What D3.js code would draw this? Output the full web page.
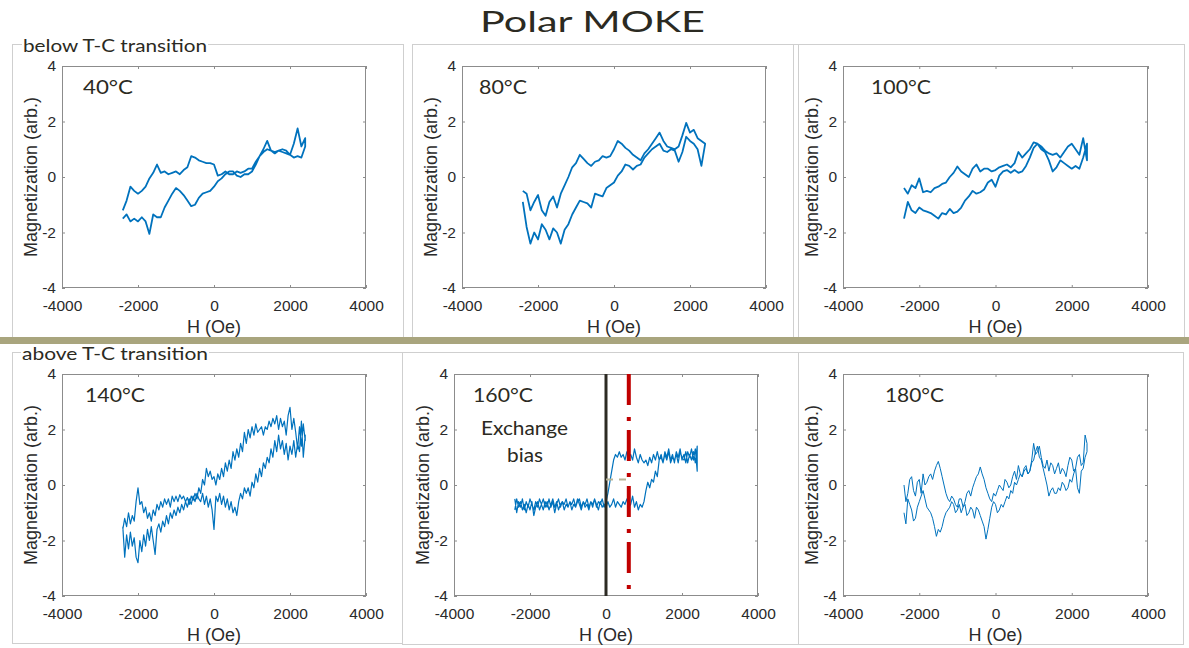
<!DOCTYPE html>
<html>
<head>
<meta charset="utf-8">
<script src="https://cdn.jsdelivr.net/npm/d3@7"></script>
<style>
  body { margin: 0; background: #fff; }
  svg { display: block; }
</style>
</head>
<body>
<svg id="chart" width="1189" height="648"></svg>
<script>
// ---- axis ticks and panel captions ----
const fieldTicks = [-4000, -2000, 0, 2000, 4000];
const magTicks = [-4, -2, 0, 2, 4];
const temperatures = ["40°C", "80°C", "100°C", "140°C", "160°C", "180°C"];
const sectionTitles = ["below T-C transition", "above T-C transition"];
const chartTitle = "Polar MOKE";
const xAxisTitle = "H (Oe)";
const yAxisTitle = "Magnetization (arb.)";

// field sweep positions (Oe)
const sweepCoarse = d3.range(-2400, 2401, 100);
const sweepFine = d3.range(-2400, 2401, 50);

// ---- magnetization, upper branch and lower branch, listed by increasing field ----
const m40Upper = [
  -1.2, -0.85, -0.35, -0.5, -0.6, -0.5, -0.35, -0.05, 0.15, 0.45,
  0.15, 0.2, 0.1, 0.15, 0.2, 0.1, 0.25, 0.35, 0.75, 0.7,
  0.6, 0.55, 0.5, 0.5, 0.45, 0.05, 0.1, 0.2, 0.1, 0.1,
  0.2, 0.15, 0.2, 0.3, 0.3, 0.55, 0.75, 0.9, 1.0, 0.95,
  0.9, 0.95, 0.9, 0.85, 0.8, 0.7, 0.75, 0.7, 1.1];
const m40Lower = [
  -1.5, -1.35, -1.6, -1.5, -1.6, -1.45, -1.6, -2.05, -1.35, -1.45,
  -1.45, -1.1, -0.85, -0.6, -0.4, -0.5, -0.65, -0.85, -1.05, -1.0,
  -0.75, -0.6, -0.55, -0.5, -0.35, -0.15, -0.05, 0.1, 0.2, 0.2,
  0.05, 0.0, 0.1, 0.1, 0.2, 0.45, 0.75, 1.0, 1.3, 0.95,
  0.85, 0.95, 1.0, 0.95, 0.8, 1.2, 1.75, 1.1, 1.4];

const m80Upper = [
  -0.5, -0.6, -1.2, -0.9, -0.65, -1.2, -1.4, -0.9, -0.7, -1.1,
  -0.6, -0.3, 0.0, 0.35, 0.5, 0.8, 0.65, 0.5, 0.4, 0.55,
  0.6, 0.75, 0.7, 0.75, 1.0, 1.3, 1.2, 1.05, 0.95, 0.8,
  0.7, 0.6, 0.85, 1.0, 1.2, 1.4, 1.6, 1.3, 1.1, 1.05,
  1.0, 1.1, 1.5, 1.95, 1.6, 1.7, 1.4, 1.3, 1.2];
const m80Lower = [
  -0.9, -1.8, -2.4, -2.0, -2.25, -1.7, -1.9, -2.25, -1.85, -2.0,
  -2.4, -1.9, -1.7, -1.35, -1.1, -0.85, -0.9, -0.95, -1.1, -0.6,
  -0.65, -0.7, -0.4, -0.3, -0.2, 0.05, 0.2, 0.45, 0.4, 0.27,
  0.4, 0.45, 0.7, 0.85, 1.0, 1.1, 1.2, 0.95, 0.9, 1.0,
  0.95, 0.55, 0.9, 1.45, 1.3, 1.2, 1.0, 0.4, 1.2];

const m100Upper = [
  -0.4, -0.6, -0.3, -0.4, -0.05, -0.55, -0.5, -0.55, -0.4, -0.35,
  -0.25, -0.2, 0.0, 0.15, 0.38, 0.2, 0.1, 0.0, 0.3, 0.45,
  0.2, 0.3, 0.3, 0.2, 0.25, 0.35, 0.4, 0.45, 0.35, 0.5,
  0.9, 0.7, 0.85, 1.0, 1.25, 1.2, 1.1, 0.95, 0.85, 0.8,
  0.85, 0.7, 0.9, 1.1, 1.2, 1.0, 0.8, 1.4, 0.6];
const m100Lower = [
  -1.5, -0.9, -1.2, -1.3, -1.1, -1.2, -1.25, -1.3, -1.4, -1.5,
  -1.3, -1.35, -1.15, -1.3, -1.25, -1.1, -0.85, -0.7, -0.5, -0.6,
  -0.55, -0.45, -0.2, -0.1, -0.35, 0.05, 0.2, 0.25, 0.15, 0.25,
  0.15, 0.2, 0.4, 0.7, 1.05, 1.2, 1.0, 0.9, 0.6, 0.2,
  0.35, 0.6, 0.5, 0.4, 0.3, 0.4, 0.3, 0.7, 1.2];

const m140Upper = [
  -1.6, -1.2, -1.5, -1.0, -1.4, -1.1, -1.3, -0.6, -0.1, -0.7,
  -0.6, -1.0, -0.8, -1.2, -1.0, -1.3, -0.9, -1.1, -0.7, -0.9,
  -0.6, -0.8, -0.5, -0.7, -0.5, -0.8, -0.4, -0.6, -0.4, -0.6,
  -0.35, -0.5, -0.4, -0.6, -0.45, -0.7, -0.4, -0.55, -0.3, -0.5,
  -0.1, -0.3, 0.2, 0.0, 0.6, 0.3, 0.5, 0.2, 0.3, 0.0,
  0.4, 0.2, 0.6, 0.3, 0.8, 0.5, 0.9, 0.6, 1.2, 0.9,
  1.3, 1.0, 1.5, 1.2, 1.9, 1.5, 2.0, 1.7, 2.1, 1.8,
  2.2, 1.9, 2.0, 2.1, 1.8, 2.1, 2.0, 2.3, 2.1, 2.4,
  2.2, 2.5, 2.0, 2.4, 2.1, 2.3, 1.8, 2.5, 2.8, 2.0,
  2.4, 1.9, 1.3, 2.1, 1.4, 2.2, 1.6];
const m140Lower = [
  -1.5, -2.6, -1.8, -2.3, -1.7, -2.2, -1.9, -2.6, -2.8, -2.0,
  -2.4, -1.8, -2.2, -1.6, -2.0, -1.5, -2.0, -2.5, -1.6, -1.4,
  -1.7, -1.3, -1.5, -1.1, -1.4, -1.0, -1.2, -0.9, -1.1, -0.8,
  -1.0, -0.7, -0.9, -0.6, -0.8, -0.5, -0.7, -0.4, -0.6, -0.3,
  -0.5, -0.6, -0.3, -0.7, -0.4, -0.8, -0.5, -0.9, -1.6, -0.4,
  -0.6, -0.3, -0.7, -0.4, -0.8, -0.5, -0.9, -0.6, -1.0, -0.8,
  -1.1, -0.6, -0.3, -0.5, -0.1, -0.3, -0.1, -0.4, 0.1, -0.1,
  0.4, 0.1, 0.6, 0.3, 0.8, 0.6, 1.0, 0.8, 1.3, 1.0,
  1.6, 1.2, 1.8, 1.3, 1.6, 1.1, 1.5, 0.9, 1.4, 1.1,
  1.6, 1.0, 1.5, 1.2, 2.3, 1.0, 1.8];

const m160Upper = [
  -0.5, -1.0, -0.6, -0.8, -0.5, -0.9, -0.6, -0.8, -0.5, -0.7,
  -0.9, -0.6, -0.8, -0.5, -0.7, -0.9, -0.6, -0.8, -0.5, -0.8,
  -0.6, -1.0, -0.7, -0.5, -0.8, -0.6, -0.7, -0.5, -0.8, -0.6,
  -0.7, -0.5, -0.8, -0.6, -0.5, -0.8, -0.6, -0.7, -0.5, -0.8,
  -0.6, -0.7, -0.5, -0.8, -0.6, -0.7, -0.5, -0.8, -0.6, -0.3,
  0.1, 0.5, 0.9, 1.1, 1.0, 1.2, 1.0, 1.1, 0.9, 1.2,
  1.0, 1.1, 0.9, 1.3, 1.0, 0.8, 1.1, 0.9, 0.8, 0.9,
  0.7, 1.0, 0.8, 1.1, 0.9, 1.2, 0.9, 1.1, 0.8, 1.2,
  1.0, 1.3, 0.9, 1.1, 0.8, 1.2, 1.0, 1.3, 0.9, 1.1,
  0.8, 1.2, 1.0, 1.3, 0.9, 1.3, 0.5];
const m160Lower = [
  -0.9, -0.5, -0.8, -0.6, -0.9, -0.7, -1.0, -0.7, -0.9, -0.6,
  -1.1, -0.8, -0.6, -0.9, -0.7, -0.5, -0.8, -0.6, -0.9, -0.7,
  -0.5, -0.8, -0.6, -0.9, -0.7, -0.6, -0.9, -0.7, -0.8, -0.6,
  -0.9, -0.7, -0.8, -0.5, -0.7, -0.9, -0.6, -0.8, -0.7, -0.9,
  -0.6, -0.8, -0.5, -0.7, -0.9, -0.6, -0.8, -0.7, -0.8, -0.6,
  -0.8, -0.7, -0.5, -0.8, -0.6, -0.7, -0.8, -0.6, -0.7, -0.5,
  -0.8, -0.7, -0.4, -0.8, -0.6, -0.9, -0.7, -0.8, -0.6, -0.2,
  0.1, -0.1, 0.2, 0.1, 0.5, 0.3, 0.9, 1.0, 0.8, 1.1,
  0.9, 1.2, 0.8, 1.0, 0.9, 1.1, 0.8, 1.2, 1.0, 0.9,
  1.2, 0.8, 1.1, 0.9, 1.2, 0.8, 1.4];

const m180Upper = [
  0.0, -0.6, -0.3, 0.2, 0.3, -0.2, -0.4, 0.1, 0.2, -0.3,
  0.4, 0.0, 0.1, 0.3, 0.4, 0.2, 0.5, 0.7, 0.85, 0.6,
  0.3, 0.0, -0.3, -0.5, -0.6, -0.4, -0.5, -0.7, -0.8, -0.5,
  -0.5, -0.8, -0.6, -0.3, -0.2, -0.4, -0.1, 0.1, 0.3, 0.4,
  0.65, 0.4, 0.2, -0.1, -0.3, -0.5, -0.6, -0.3, -0.4, -0.2,
  0.0, -0.1, -0.2, 0.2, 0.1, -0.1, 0.0, 0.3, 0.5, 0.2,
  0.7, 0.4, 0.3, 0.6, 0.7, 0.4, 0.5, 0.9, 1.5, 1.1,
  1.2, 1.4, 1.0, 0.7, 0.6, 0.9, 0.5, 0.8, 0.7, 0.4,
  0.6, 0.8, 0.4, 0.6, 0.5, 0.3, 0.7, 1.0, 0.9, 0.5,
  0.6, 1.0, 1.1, 0.7, 0.8, 1.8, 1.5];
const m180Lower = [
  -1.0, -1.4, -0.5, -0.7, -0.9, -1.3, -1.2, -0.8, -0.6, -0.4,
  -0.2, -0.5, -0.8, -0.9, -1.0, -1.2, -1.5, -1.85, -1.6, -1.7,
  -1.5, -1.2, -1.0, -0.9, -0.8, -0.6, -0.7, -1.0, -0.9, -0.7,
  -1.0, -0.8, -0.7, -1.1, -1.0, -0.8, -0.9, -1.2, -0.8, -0.9,
  -1.1, -1.3, -1.5, -1.95, -1.6, -1.2, -0.8, -0.6, -0.7, -1.0,
  -0.9, -0.7, -0.8, -0.6, -0.4, -0.5, -0.2, -0.3, 0.1, 0.0,
  0.2, 0.4, 0.3, 0.5, 0.6, 0.4, 0.5, 0.8, 0.9, 1.2,
  1.4, 1.0, 0.9, 0.6, 0.3, 0.0, -0.4, -0.2, -0.1, -0.3,
  -0.3, -0.1, -0.2, 0.1, 0.0, -0.2, -0.1, 0.2, 0.1, 0.4,
  0.6, -0.1, -0.3, 0.5, 0.6, 1.0, 1.2];

// exchange-bias markers for the 160°C loop
const biasCentreField = 0;
const biasShiftField = 600;
const biasMarkerMag = 0.2;
const biasLabel = ["Exchange", "bias"];

// ---- layout ----
const svg = d3.select("#chart");
const frameColor = "#cfcfcf";
const textDark = "#2b2a22";
const axisGray = "#8c8c8c";
const lineBlue = "#0072bd";
const captionFont = "Lato, 'Open Sans', sans-serif";
const axisFont = "'Liberation Sans', Arial, sans-serif";

const plotH = 222;
const panels = [
  { left: 62,  top: 66,  width: 304, labelDx: 21, labelW: 50, sweep: sweepCoarse, upper: m40Upper,  lower: m40Lower,  lw: 1.8 },
  { left: 462, top: 66,  width: 304, labelDx: 17, labelW: 48, sweep: sweepCoarse, upper: m80Upper,  lower: m80Lower,  lw: 1.8 },
  { left: 843, top: 66,  width: 305, labelDx: 28, labelW: 60, sweep: sweepCoarse, upper: m100Upper, lower: m100Lower, lw: 1.8 },
  { left: 62,  top: 374, width: 304, labelDx: 23, labelW: 60, sweep: sweepFine,   upper: m140Upper, lower: m140Lower, lw: 1.2 },
  { left: 454, top: 374, width: 304, labelDx: 19, labelW: 60, sweep: sweepFine,   upper: m160Upper, lower: m160Lower, lw: 1.2 },
  { left: 843, top: 374, width: 305, labelDx: 42, labelW: 59, sweep: sweepFine,   upper: m180Upper, lower: m180Lower, lw: 1.0 }
];

// slide frames
const frames = [
  [12, 44, 403, 337], [412, 44, 798, 337], [793, 44, 1184, 337],
  [12, 352, 402, 643], [402, 352, 798, 644], [798, 352, 1183, 644]
];
frames.forEach(([x0, y0, x1, y1]) => {
  svg.append("rect")
    .attr("x", x0 + 0.5).attr("y", y0 + 0.5)
    .attr("width", x1 - x0).attr("height", y1 - y0)
    .attr("fill", "none").attr("stroke", frameColor).attr("stroke-width", 1);
});

// divider between the two rows
svg.append("rect").attr("x", 0).attr("y", 337).attr("width", 1189).attr("height", 7)
  .attr("fill", "#a9a57e");

// section headings
[[23, 52, 184], [22, 360, 186]].forEach(([x, y, w], i) => {
  svg.append("rect").attr("x", x - 1).attr("y", y - 14).attr("width", w + 2).attr("height", 14)
    .attr("fill", "#fff");
  svg.append("text")
    .attr("x", x).attr("y", y)
    .attr("font-family", captionFont).attr("font-size", 17.5)
    .attr("textLength", w).attr("lengthAdjust", "spacingAndGlyphs")
    .attr("fill", textDark)
    .text(sectionTitles[i]);
});

// title
svg.append("text")
  .attr("x", 480).attr("y", 32)
  .attr("font-family", captionFont).attr("font-size", 29)
  .attr("textLength", 225).attr("lengthAdjust", "spacingAndGlyphs")
  .attr("fill", textDark)
  .text(chartTitle);

const fmt = d => String(d);

panels.forEach((p, idx) => {
  const g = svg.append("g").attr("transform", `translate(${p.left},${p.top})`);
  const x = d3.scaleLinear().domain([-4000, 4000]).range([0, p.width]);
  const y = d3.scaleLinear().domain([-4, 4]).range([plotH, 0]);

  // white plot background and box
  g.append("rect").attr("width", p.width).attr("height", plotH).attr("fill", "#fff");

  const styleAxis = sel => {
    sel.select(".domain").remove();
    sel.selectAll(".tick line").attr("stroke", axisGray);
    sel.selectAll(".tick text")
      .attr("font-family", axisFont).attr("font-size", 15.5).attr("fill", "#2a2a2a");
  };

  g.append("g").attr("transform", `translate(0,${plotH})`)
    .call(d3.axisBottom(x).tickValues(fieldTicks).tickFormat(fmt).tickSizeInner(-3).tickSizeOuter(0).tickPadding(12))
    .call(styleAxis);
  g.append("g")
    .call(d3.axisTop(x).tickValues(fieldTicks).tickFormat(() => "").tickSizeInner(-3).tickSizeOuter(0))
    .call(styleAxis);
  g.append("g")
    .call(d3.axisLeft(y).tickValues(magTicks).tickFormat(fmt).tickSizeInner(-3).tickSizeOuter(0).tickPadding(6))
    .call(styleAxis);
  g.append("g").attr("transform", `translate(${p.width},0)`)
    .call(d3.axisRight(y).tickValues(magTicks).tickFormat(() => "").tickSizeInner(-3).tickSizeOuter(0))
    .call(styleAxis);

  g.append("rect").attr("x", 0.5).attr("y", 0.5)
    .attr("width", p.width - 1).attr("height", plotH - 1)
    .attr("fill", "none").attr("stroke", axisGray).attr("stroke-width", 1);

  // axis titles
  g.append("text")
    .attr("x", p.width / 2).attr("y", plotH + 45)
    .attr("text-anchor", "middle")
    .attr("font-family", axisFont).attr("font-size", 18).attr("fill", "#2a2a2a")
    .text(xAxisTitle);
  g.append("text")
    .attr("transform", `translate(-25,${plotH / 2}) rotate(-90)`)
    .attr("text-anchor", "middle")
    .attr("font-family", axisFont).attr("font-size", 18).attr("fill", "#2a2a2a")
    .text(yAxisTitle);

  // hysteresis loop: lower branch swept up, then upper branch swept back down
  const loop = p.lower.map((m, i) => [p.sweep[i], m])
    .concat(p.upper.map((m, i) => [p.sweep[i], m]).reverse());
  const line = d3.line().x(d => x(d[0])).y(d => y(d[1]));
  g.append("path").datum(loop)
    .attr("d", line)
    .attr("fill", "none").attr("stroke", lineBlue)
    .attr("stroke-width", p.lw).attr("stroke-linejoin", "round");

  // temperature caption
  g.append("text")
    .attr("x", p.labelDx).attr("y", 28)
    .attr("font-family", captionFont).attr("font-size", 19)
    .attr("textLength", p.labelW).attr("lengthAdjust", "spacingAndGlyphs")
    .attr("fill", textDark)
    .text(temperatures[idx]);

  if (temperatures[idx] === "160°C") {
    // zero-field reference and shifted loop centre
    g.append("line")
      .attr("x1", x(biasCentreField)).attr("x2", x(biasCentreField))
      .attr("y1", y(4)).attr("y2", y(-4))
      .attr("stroke", "#2d2b24").attr("stroke-width", 3);
    g.append("line")
      .attr("x1", x(biasShiftField)).attr("x2", x(biasShiftField))
      .attr("y1", y(4)).attr("y2", y(-3.75))
      .attr("stroke", "#c00000").attr("stroke-width", 4)
      .attr("stroke-dasharray", "31,12,4,9");
    g.append("line")
      .attr("x1", x(biasCentreField)).attr("x2", x(biasShiftField - 20))
      .attr("y1", y(biasMarkerMag)).attr("y2", y(biasMarkerMag))
      .attr("stroke", "#b8b496").attr("stroke-width", 2)
      .attr("stroke-dasharray", "7,6");
    // annotation
    [[27, 61, 87], [53, 88, 36]].forEach(([dx, dy, w], k) => {
      g.append("text")
        .attr("x", dx).attr("y", dy)
        .attr("font-family", captionFont).attr("font-size", 18.5)
        .attr("textLength", w).attr("lengthAdjust", "spacingAndGlyphs")
        .attr("fill", textDark)
        .text(biasLabel[k]);
    });
  }
});
</script>
</body>
</html>
